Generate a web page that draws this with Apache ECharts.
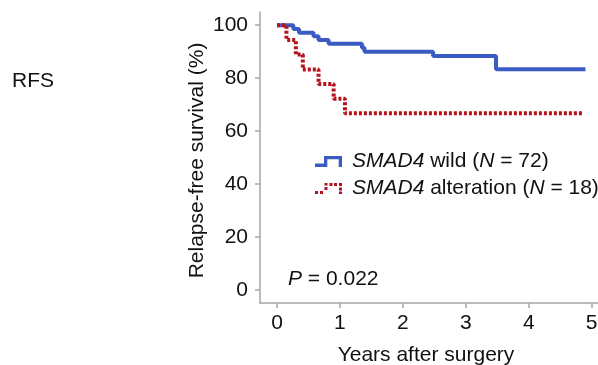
<!DOCTYPE html>
<html>
<head>
<meta charset="utf-8">
<script src="https://cdn.jsdelivr.net/npm/echarts@6/dist/echarts.min.js"></script>
<style>
  html, body { margin: 0; padding: 0; background: #fff; }
  #chart { width: 598px; height: 365px; }
</style>
</head>
<body>
<div id="chart"></div>
<script>
// Kaplan-Meier steps (years, % relapse-free)
const wildYears = [0, 0.26, 0.35, 0.58, 0.66, 0.82, 1.35, 1.39, 2.48, 3.48, 4.9];
const wildSurv = [100, 98.6, 97.2, 95.8, 94.4, 93.0, 91.5, 90.0, 88.4, 83.4, 83.4];
const altYears = [0, 0.15, 0.30, 0.41, 0.66, 0.90, 1.08, 4.87];
const altSurv = [100, 94.4, 88.9, 83.3, 77.8, 72.2, 66.7, 66.7];

const xTicks = [0, 1, 2, 3, 4, 5];
const yTicks = [0, 20, 40, 60, 80, 100];

const FONT = "'Liberation Sans', Arial, sans-serif";
const FS = 21;
const BLUE = "#3a5cc2";
const RED = "#b3141c";
const AXIS = "#a6a6a6";

function pairs(xs, ys) {
  return xs.map((x, i) => [x, ys[i]]);
}

const chart = echarts.init(document.getElementById("chart"));

const option = {
  animation: false,
  grid: { left: 260, right: 0, top: 12, bottom: 62, outerBoundsMode: "none", containLabel: false },
  xAxis: {
    type: "value",
    min: -0.27,
    max: 5.1,
    name: "Years after surgery",
    nameLocation: "middle",
    nameGap: 42,
    nameMoveOverlap: false,
    nameTextStyle: { fontFamily: FONT, fontSize: FS, color: "#111", padding: [0, 6, 0, 0] },
    axisLine: { show: true, onZero: false, lineStyle: { color: AXIS, width: 1.5 } },
    axisTick: { show: true, length: 5, lineStyle: { color: AXIS, width: 1.5 }, customValues: xTicks },
    axisLabel: { fontFamily: FONT, fontSize: FS, color: "#111", margin: 10, customValues: xTicks },
    splitLine: { show: false }
  },
  yAxis: {
    type: "value",
    min: -5,
    max: 105,
    name: "Relapse-free survival (%)",
    nameLocation: "middle",
    nameGap: 52,
    nameMoveOverlap: false,
    nameTextStyle: { fontFamily: FONT, fontSize: FS, color: "#111", padding: [0, 6, 0, 0] },
    axisLine: { show: true, onZero: false, lineStyle: { color: AXIS, width: 1.5 } },
    axisTick: { show: true, length: 5, lineStyle: { color: AXIS, width: 1.5 }, customValues: yTicks },
    axisLabel: { fontFamily: FONT, fontSize: FS, color: "#111", margin: 12, customValues: yTicks },
    splitLine: { show: false }
  },
  legend: {
    orient: "vertical",
    left: 310,
    top: 145,
    itemWidth: 27,
    itemHeight: 11,
    itemGap: 4,
    selectedMode: false,
    textStyle: {
      fontFamily: FONT,
      fontSize: FS,
      lineHeight: 23,
      color: "#111",
      padding: [0, 0, 0, 5],
      rich: { i: { fontFamily: FONT, fontSize: FS, fontStyle: "italic", color: "#111" } }
    },
    formatter: function (name) {
      return name === "wild"
        ? "{i|SMAD4} wild ({i|N} = 72)"
        : "{i|SMAD4} alteration ({i|N} = 18)";
    },
    data: [
      {
        name: "wild",
        icon: "path://M0,7.6H9V0H27V11H23.7V3.3H12.3V11H0Z",
        itemStyle: { color: BLUE }
      },
      {
        name: "alteration",
        icon: "path://M0,8h3v3h-3z M5,8h3v3h-3z M9.5,4h3v3h-3z M9.5,0h3v2.5h-3z M14.5,0h3v3h-3z M19,0h3v3h-3z M24,0h3v3h-3z M24,4.5h3v3h-3z M24,8.5h3v2.5h-3z",
        itemStyle: { color: RED }
      }
    ]
  },
  graphic: [
    {
      type: "text",
      left: 12,
      top: 71,
      style: { text: "RFS", font: FS + "px " + FONT, fill: "#111" }
    },
    {
      type: "text",
      left: 288,
      top: 269,
      style: {
        text: "{i|P} = 0.022",
        font: FS + "px " + FONT,
        fill: "#111",
        rich: { i: { fontFamily: FONT, fontSize: FS, fontStyle: "italic", fill: "#111" } }
      }
    }
  ],
  series: [
    {
      name: "wild",
      type: "line",
      step: "end",
      showSymbol: false,
      symbol: "none",
      data: pairs(wildYears, wildSurv),
      lineStyle: { color: BLUE, width: 4 },
      itemStyle: { color: BLUE },
      z: 2
    },
    {
      name: "alteration",
      type: "line",
      step: "end",
      showSymbol: false,
      symbol: "none",
      data: pairs(altYears, altSurv),
      lineStyle: { color: RED, width: 4, type: [3, 2], cap: "butt" },
      itemStyle: { color: RED },
      z: 3
    }
  ]
};

chart.setOption(option);
</script>
</body>
</html>
